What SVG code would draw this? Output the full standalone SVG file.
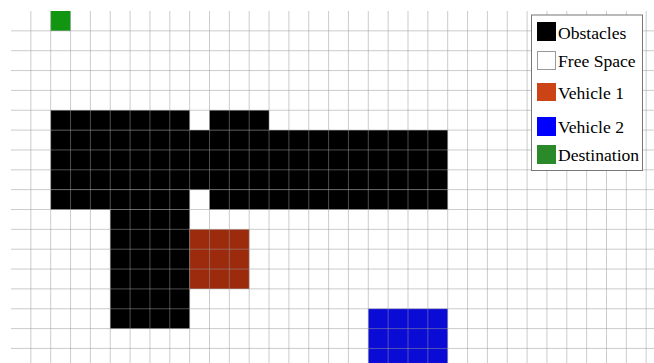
<svg xmlns="http://www.w3.org/2000/svg" width="654" height="363" viewBox="0 0 654 363">
<style>
.obs{fill:#000}
.grid{stroke:#999;stroke-opacity:0.5;stroke-width:1;fill:none}
.lt{font-family:"Liberation Serif","Times New Roman",serif;font-size:17.6px;fill:#000}
</style>
<rect x="0" y="0" width="654" height="363" fill="#fff"/>
<g id="cells">
<rect id="destination" x="50.7" y="11" width="19.85" height="19.85" fill="#129612"/>
<g id="obstacles" class="obs">
<rect x="50.7" y="110.25" width="138.95" height="19.85"/>
<rect x="209.5" y="110.25" width="59.55" height="19.85"/>
<rect x="50.7" y="130.1" width="397" height="59.55"/>
<rect x="50.7" y="189.65" width="138.95" height="19.85"/>
<rect x="209.5" y="189.65" width="238.2" height="19.85"/>
<rect x="110.25" y="209.5" width="79.4" height="119.1"/>
</g>
<rect id="vehicle1" x="189.65" y="229.35" width="59.55" height="59.55" fill="#9c2b0e"/>
<rect id="vehicle2" x="368.3" y="308.75" width="79.4" height="60" fill="#0b0bd6"/>
</g>
<path id="gridlines" class="grid" d="M30.85 11V363M50.7 11V363M70.55 11V363M90.4 11V363M110.25 11V363M130.1 11V363M149.95 11V363M169.8 11V363M189.65 11V363M209.5 11V363M229.35 11V363M249.2 11V363M269.05 11V363M288.9 11V363M308.75 11V363M328.6 11V363M348.45 11V363M368.3 11V363M388.15 11V363M408 11V363M427.85 11V363M447.7 11V363M467.55 11V363M487.4 11V363M507.25 11V363M527.1 11V363M546.95 11V363M566.8 11V363M586.65 11V363M606.5 11V363M626.35 11V363M646.2 11V363M11 30.85H654M11 50.7H654M11 70.55H654M11 90.4H654M11 110.25H654M11 130.1H654M11 149.95H654M11 169.8H654M11 189.65H654M11 209.5H654M11 229.35H654M11 249.2H654M11 269.05H654M11 288.9H654M11 308.75H654M11 328.6H654M11 348.45H654"/>
<g id="legend">
<rect x="531.5" y="15" width="111" height="155.5" fill="#fff" stroke="#777" stroke-width="1"/>
<rect x="537" y="22" width="19" height="19" fill="#000"/>
<text class="lt" x="558" y="39">Obstacles</text>
<rect x="537.5" y="51.5" width="18" height="18" fill="#fff" stroke="#999"/>
<text class="lt" x="558" y="67">Free Space</text>
<rect x="537" y="83" width="19" height="18" fill="#cc4415"/>
<text class="lt" x="558" y="99">Vehicle 1</text>
<rect x="537" y="117" width="19" height="19" fill="#0000ff"/>
<text class="lt" x="558" y="133">Vehicle 2</text>
<rect x="537" y="145" width="19" height="19" fill="#2a8a2a"/>
<text class="lt" x="558" y="161">Destination</text>
</g>
</svg>
